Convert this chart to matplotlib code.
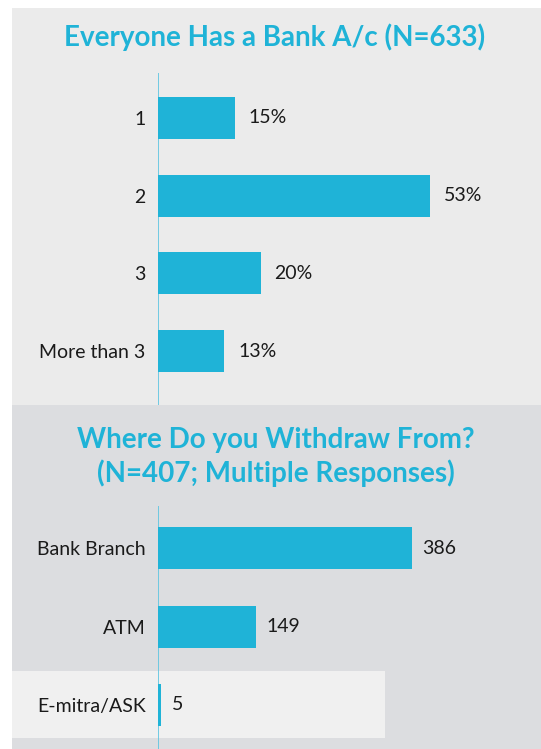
import matplotlib
matplotlib.use("Agg")
import matplotlib.pyplot as plt
from matplotlib.patches import Rectangle

# ---- data ----
top_title = "Everyone Has a Bank A/c (N=633)"
top_categories = ["1", "2", "3", "More than 3"]
top_values = [15, 53, 20, 13]
top_labels = ["15%", "53%", "20%", "13%"]

bottom_title = "Where Do you Withdraw From?\n(N=407; Multiple Responses)"
bottom_categories = ["Bank Branch", "ATM", "E-mitra/ASK"]
bottom_values = [386, 149, 5]
bottom_labels = ["386", "149", "5"]

# ---- style ----
W, H = 541, 749
DPI = 100
BLUE = "#1fb3d7"
AXIS_BLUE = "#5cc4e1"
TOP_BG = "#ebebeb"
BOT_BG = "#dcdde0"
HIGHLIGHT = "#f0f0f0"
TEXT = "#1a1a1a"
FONT = ["Lato", "DejaVu Sans"]

plt.rcParams["font.family"] = FONT

fig = plt.figure(figsize=(W / DPI, H / DPI), dpi=DPI)
fig.patch.set_facecolor("white")


def fig_rect(x0, y0, x1, y1, color, z=0):
    r = Rectangle((x0 / W, 1 - y1 / H), (x1 - x0) / W, (y1 - y0) / H,
                  transform=fig.transFigure, facecolor=color, edgecolor="none",
                  zorder=z)
    fig.add_artist(r)


def px_axes(x0, y0, x1, y1):
    ax = fig.add_axes([x0 / W, 1 - y1 / H, (x1 - x0) / W, (y1 - y0) / H])
    ax.set_facecolor("none")
    ax.patch.set_alpha(0)
    for s in ax.spines.values():
        s.set_visible(False)
    ax.set_xticks([])
    return ax


# panel backgrounds
fig_rect(12, 8, W, 405, TOP_BG, z=-3)
fig_rect(12, 405, W, H, BOT_BG, z=-3)
fig_rect(12, 671, 385, 738, HIGHLIGHT, z=-2)

# titles
fig.text(275 / W, 1 - 37 / H, top_title, ha="center", va="center",
         color=BLUE, fontsize=20, fontweight="bold")
fig.text(276 / W, 1 - 457 / H, bottom_title, ha="center", va="center",
         color=BLUE, fontsize=20, fontweight="bold", linespacing=1.3)

AX_X0 = 157.5

# ---- top chart ----
ax1 = px_axes(AX_X0, 73, W, 405)
px_per = 5.15
ax1.set_xlim(0, (W - AX_X0) / px_per)
sp = 77.7
ax1.set_ylim(3 + (405 - 351) / sp, -(118 - 73) / sp)
ax1.axvline(0, color=AXIS_BLUE, lw=1.2, zorder=1)
ypos = list(range(len(top_categories)))
ax1.barh(ypos, top_values, height=42 / sp, color=BLUE, zorder=2)
ax1.set_yticks(ypos)
ax1.set_yticklabels(top_categories, fontsize=14, color=TEXT)
ax1.tick_params(axis="y", length=0, pad=8.5)
for y, v, t in zip(ypos, top_values, top_labels):
    ax1.annotate(t, (v, y), xytext=(10, 0), textcoords="offset points",
                 ha="left", va="center", fontsize=14, color=TEXT)

# ---- bottom chart ----
ax2 = px_axes(AX_X0, 506, W, H)
px_per2 = 254 / 386
ax2.set_xlim(0, (W - AX_X0) / px_per2)
sp2 = 78.5
ax2.set_ylim(2 + (H - 705) / sp2, -(548 - 506) / sp2)
ax2.axvline(0, color=AXIS_BLUE, lw=1.2, zorder=1)
ypos2 = list(range(len(bottom_categories)))
ax2.barh(ypos2, bottom_values, height=42 / sp2, color=BLUE, zorder=2)
ax2.set_yticks(ypos2)
ax2.set_yticklabels(bottom_categories, fontsize=14, color=TEXT)
ax2.tick_params(axis="y", length=0, pad=8.5)
for y, v, t in zip(ypos2, bottom_values, bottom_labels):
    ax2.annotate(t, (v, y), xytext=(8, 0), textcoords="offset points",
                 ha="left", va="center", fontsize=14, color=TEXT)

fig.savefig("out.png", dpi=DPI, facecolor=fig.get_facecolor())
